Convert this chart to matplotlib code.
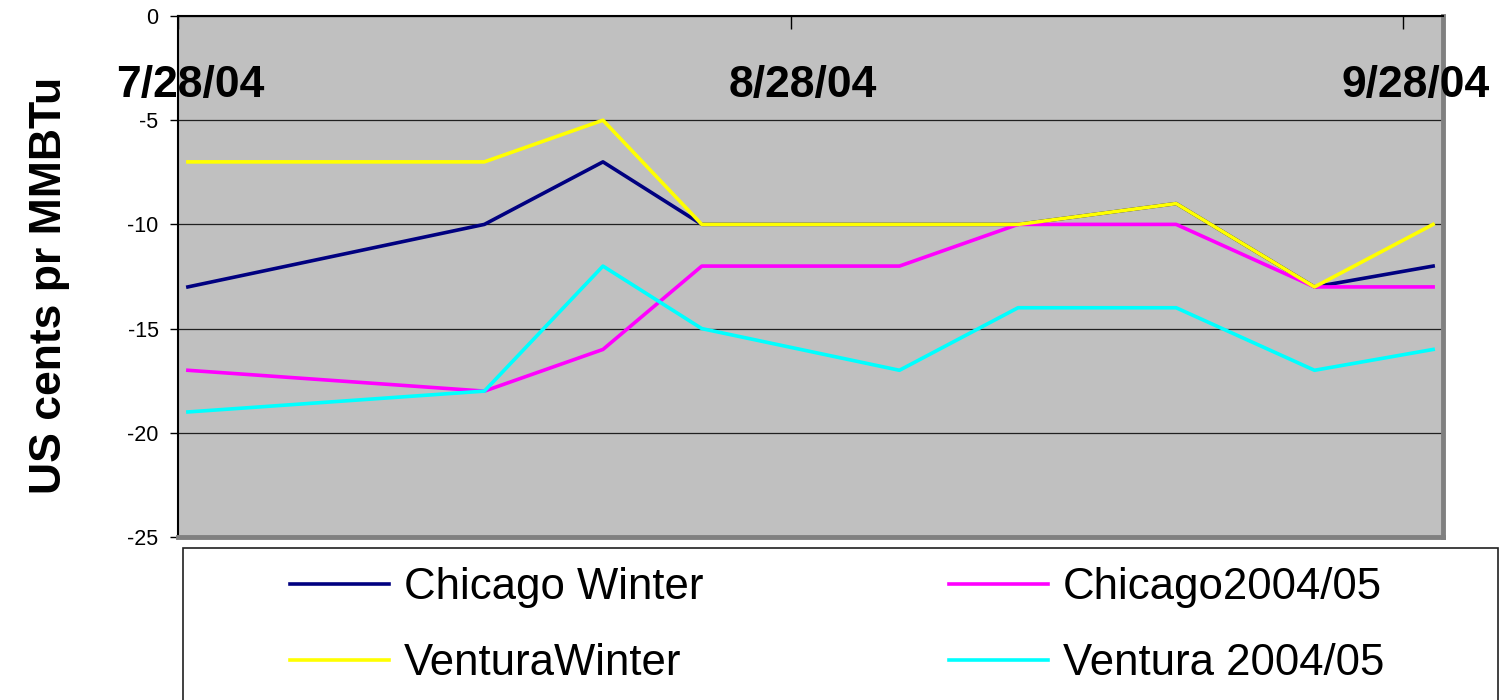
import matplotlib
matplotlib.use("Agg")
import matplotlib.pyplot as plt
from matplotlib.patches import Rectangle

plt.rcParams['font.family'] = ['Liberation Sans', 'DejaVu Sans']

# days after 7/28/04 for each observation
days = [0, 15, 21, 26, 36, 42, 50, 57, 63]
chicago_winter = [-13, -10, -7, -10, -10, -10, -9, -13, -12]
chicago_0405 = [-17, -18, -16, -12, -12, -10, -10, -13, -13]
ventura_winter = [-7, -7, -5, -10, -10, -10, -9, -13, -10]
ventura_0405 = [-19, -18, -12, -15, -17, -14, -14, -17, -16]

date_ticks = [0, 31, 62]
date_labels = ["7/28/04", "8/28/04", "9/28/04"]
y_ticks = [0, -5, -10, -15, -20, -25]

W, H = 1505, 700
fig = plt.figure(figsize=(W / 100, H / 100), dpi=100)
L, R, T, B = 178, 1443, 16, 537
ax = fig.add_axes([L / W, 1 - B / H, (R - L) / W, (B - T) / H])
ax.set_facecolor('#C0C0C0')

x = [d + 0.5 for d in days]
l1, = ax.plot(x, chicago_winter, color='#000080', lw=2.6, label='Chicago Winter')
l2, = ax.plot(x, chicago_0405, color='#FF00FF', lw=2.6, label='Chicago2004/05')
l3, = ax.plot(x, ventura_winter, color='#FFFF00', lw=2.6, label='VenturaWinter')
l4, = ax.plot(x, ventura_0405, color='#00FFFF', lw=2.6, label='Ventura 2004/05')

ax.set_xlim(0, 64)
ax.set_ylim(-25, 0)
ax.set_yticks(y_ticks)
ax.set_yticklabels([str(v) for v in y_ticks])
ax.yaxis.grid(True, color='#202020', lw=0.9)
ax.set_axisbelow(True)
ax.tick_params(axis='y', direction='out', length=6, width=1, labelsize=15.5, pad=8)

ax.xaxis.tick_top()
ax.set_xticks(date_ticks)
ax.tick_params(axis='x', direction='in', length=9, width=1, labeltop=False, labelbottom=False)
for t, lab in zip(date_ticks, date_labels):
    ax.text(t + 0.6, -3.89, lab, ha='center', va='baseline', fontsize=32,
            fontweight='bold', clip_on=False, zorder=5)

for s in ['left', 'top']:
    ax.spines[s].set_color('black')
    ax.spines[s].set_linewidth(1.5)
for s in ['right', 'bottom']:
    ax.spines[s].set_color('#808080')
    ax.spines[s].set_linewidth(3.5)

fig.text(50 / W, 1 - 285 / H, 'US cents pr MMBTu', rotation=90, ha='center', va='center',
         fontsize=32, fontweight='bold')

# legend box
fig.patches.append(Rectangle((183 / W, -0.05), (1498 - 183) / W, (H - 548) / H + 0.05,
                             transform=fig.transFigure, facecolor='white',
                             edgecolor='#202020', lw=1.2, zorder=0))
fig.legend([l1, l3, l2, l4], [l1.get_label(), l3.get_label(), l2.get_label(), l4.get_label()],
           ncol=2, loc='upper left', bbox_to_anchor=(290 / W, 1 - 567 / H),
           frameon=False, borderpad=0, borderaxespad=0, fontsize=31.5,
           handlelength=2.27, handletextpad=0.34, columnspacing=5.6, labelspacing=0.8)

fig.savefig('out.png', dpi=100)
